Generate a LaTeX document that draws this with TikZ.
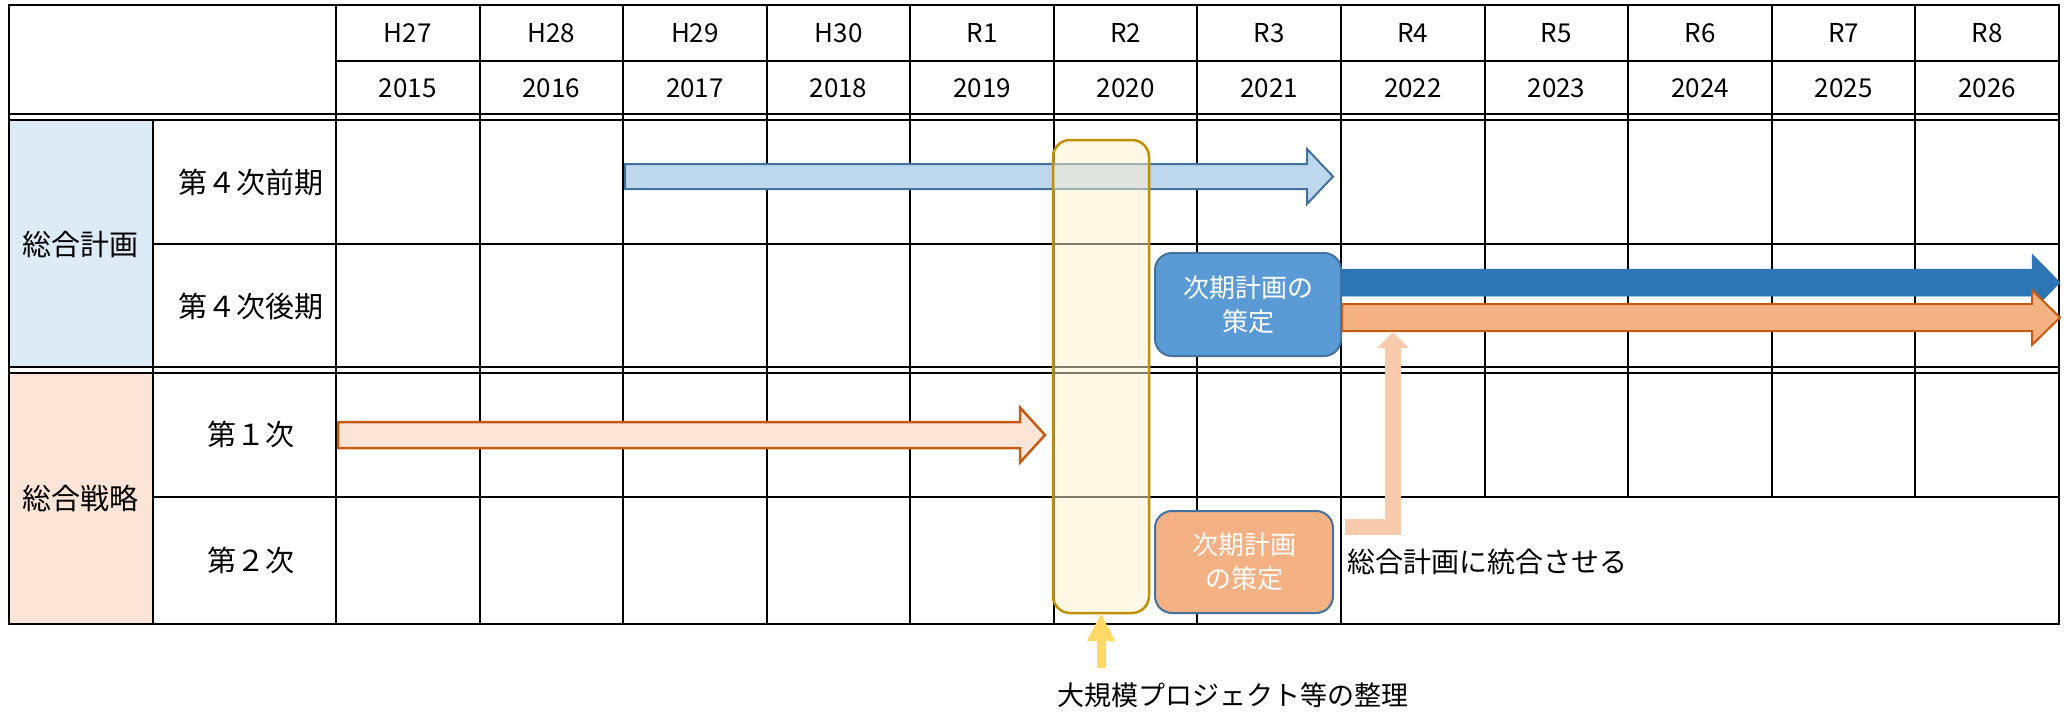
\documentclass[tikz,border=0pt]{standalone}
\usepackage{fontspec}
\setmainfont{Noto Sans CJK JP}
\usetikzlibrary{arrows.meta}
\definecolor{catblue}{HTML}{DDEBF7}
\definecolor{catorange}{HTML}{FCE4D6}
\definecolor{lblue}{HTML}{BDD7EE}
\definecolor{bborder}{HTML}{41719C}
\definecolor{mblue}{HTML}{5B9BD5}
\definecolor{dblue}{HTML}{2E75B6}
\definecolor{lorange}{HTML}{FBE5D6}
\definecolor{morange}{HTML}{F4B183}
\definecolor{oborder}{HTML}{C55A11}
\definecolor{porange}{HTML}{F8CBAD}
\definecolor{cream}{HTML}{FFF2CC}
\definecolor{gold}{HTML}{BF9000}
\definecolor{yarrowc}{HTML}{FFD966}
\newcommand{\myharrow}[7]{%
  \path[#1] ({#2},{#4-#5}) -- ({#6},{#4-#5}) -- ({#6},{#4-#7}) -- ({#3},{#4})
    -- ({#6},{#4+#7}) -- ({#6},{#4+#5}) -- ({#2},{#4+#5}) -- cycle;}
\begin{document}
\begin{tikzpicture}[x=1pt,y=-1pt,
  gridline/.style={line width=2pt, black},
  hdr/.style={font=\fontsize{26}{30}\selectfont, inner sep=0pt},
  lbl/.style={font=\fontsize{29}{34}\selectfont, inner sep=0pt},
  note/.style={font=\fontsize{28}{32}\selectfont, inner sep=0pt},
  boxtxt/.style={font=\fontsize{26}{34}\selectfont, text=white, align=center},
  rbox/.style={rounded corners=17pt, line width=2pt, outer sep=0pt, inner sep=0pt}]
\useasboundingbox (0,0) rectangle (2067,712);
\fill[white] (0,0) rectangle (2067,712);
% category fills
\fill[catblue] (9,120) rectangle (153,367);
\fill[catorange] (9,373) rectangle (153,624);
% grid
\foreach \k in {0,...,7} \draw[gridline] ({336+143.58*\k},5) -- ({336+143.58*\k},624);
\foreach \k in {8,...,11} \draw[gridline] ({336+143.58*\k},5) -- ({336+143.58*\k},497);
\draw[gridline] (153,120) -- (153,624);
\draw[gridline] (336,61) -- (2059,61);
\draw[gridline] (9,114) -- (2059,114);
\draw[gridline] (9,120) -- (2059,120);
\draw[gridline] (153,244) -- (2059,244);
\draw[gridline] (9,367) -- (2059,367);
\draw[gridline] (9,373) -- (2059,373);
\draw[gridline] (153,497) -- (2059,497);
\draw[line width=2.5pt] (9,5) rectangle (2059,624);
% header texts
\foreach \k/\h/\yr in {0/H27/2015,1/H28/2016,2/H29/2017,3/H30/2018,4/R1/2019,5/R2/2020,6/R3/2021,7/R4/2022,8/R5/2023,9/R6/2024,10/R7/2025,11/R8/2026}{
  \node[hdr] (h\k) at ({336+143.58*(\k+0.5)},33) {\h};
  \node[hdr] (y\k) at ({336+143.58*(\k+0.5)},88) {\yr};
}
% row labels
\node[lbl] (cat1) at (81,244) {総合計画};
\node[lbl] (cat2) at (81,498) {総合戦略};
\node[lbl] (r1) at (251,182) {第４次前期};
\node[lbl] (r2) at (251,306) {第４次後期};
\node[lbl] (r3) at (251,434) {第１次};
\node[lbl] (r4) at (251,560) {第２次};
% outline arrows
\myharrow{fill=lblue, draw=bborder, line width=2pt, line join=miter}{625}{1333}{176.5}{12.5}{1307}{27.5}
\myharrow{fill=lorange, draw=oborder, line width=2.5pt, line join=miter}{338}{1045}{435}{13}{1020}{27.5}
% yellow translucent rect
\node[rbox, draw=gold, line width=2.5pt, fill=cream, fill opacity=0.5, draw opacity=1,
  minimum width=96pt, minimum height=473pt] (yrect) at (1101,376.5) {};
% blue box
\node[rbox, fill=mblue, draw=bborder, minimum width=186pt, minimum height=103pt] (boxB) at (1248,304.5) {};
\node[boxtxt] (boxBt) at (boxB.center) {次期計画の\\策定};
% solid arrows
\myharrow{fill=dblue, draw=dblue, line width=0.5pt, line join=miter}{1341}{2060}{282.5}{13.5}{2032}{28.5}
\myharrow{fill=morange, draw=oborder, line width=2pt, line join=miter}{1342}{2060}{317.5}{13.5}{2032}{27.5}
% orange box
\node[rbox, fill=morange, draw=bborder, minimum width=178pt, minimum height=102pt] (boxO) at (1244,562) {};
\node[boxtxt] (boxOt) at (boxO.center) {次期計画\\の策定};
% L arrow
\coordinate (lstart) at (1345,527);
\coordinate (lend) at (1393,332);
\draw[porange, line width=16pt, line join=miter, -{Triangle[width=31pt,length=16pt]}] (lstart) -| (lend);
% yellow arrow
\coordinate (ystart) at (1101,668);
\draw[yarrowc, line width=9pt, -{Triangle[width=26pt,length=28pt]}] (ystart) -- (yrect.south);
% labels
\node[note, anchor=west] (lab1) at (1347,562) {総合計画に統合させる};
\node[lbl, font=\fontsize{27}{32}\selectfont] (lab2) at (1233,695) {大規模プロジェクト等の整理};
\end{tikzpicture}
\end{document}
